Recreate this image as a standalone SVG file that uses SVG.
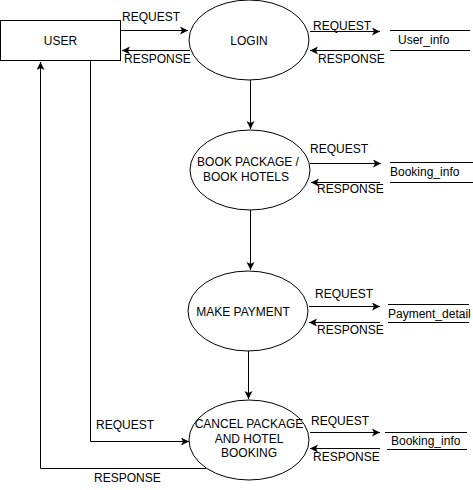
<svg xmlns="http://www.w3.org/2000/svg" width="473" height="490" viewBox="0 0 473 490">
<style>
.s{fill:#fff;stroke:#000;stroke-width:1}
.c{fill:none;stroke:#000;stroke-width:1}
.t{font-family:"Liberation Sans",Arial,sans-serif;font-size:12px;fill:#000}
.m{text-anchor:middle}
</style>
<defs>
<marker id="a" markerWidth="10" markerHeight="10" refX="8" refY="4" orient="auto" markerUnits="userSpaceOnUse">
<path d="M0,0 L8,4 L0,8 L2,4 z" fill="#000"/>
</marker>
</defs>
<rect width="473" height="490" fill="#fff"/>
<g id="connectors">
<path class="c" d="M120.5,30.5 H188" marker-end="url(#a)"/>
<path class="c" d="M190,50.5 H122" marker-end="url(#a)"/>
<path class="c" d="M310,31.5 H380" marker-end="url(#a)"/>
<path class="c" d="M380,50.5 H310" marker-end="url(#a)"/>
<path class="c" d="M250.5,80 V129" marker-end="url(#a)"/>
<path class="c" d="M310,163.5 H381" marker-end="url(#a)"/>
<path class="c" d="M380,182.5 H311" marker-end="url(#a)"/>
<path class="c" d="M250.5,210 V270" marker-end="url(#a)"/>
<path class="c" d="M309,306.5 H380" marker-end="url(#a)"/>
<path class="c" d="M380,322.5 H309" marker-end="url(#a)"/>
<path class="c" d="M248.5,351 V399" marker-end="url(#a)"/>
<path class="c" d="M90.5,60.5 V441.5 H189" marker-end="url(#a)"/>
<path class="c" d="M206,468.5 H40.5 V62" marker-end="url(#a)"/>
<path class="c" d="M310,432.5 H380" marker-end="url(#a)"/>
<path class="c" d="M380,448.5 H310" marker-end="url(#a)"/>
<text class="t" x="122" y="21">REQUEST</text>
<text class="t" x="124" y="63">RESPONSE</text>
<text class="t" x="313" y="30">REQUEST</text>
<text class="t" x="318" y="63">RESPONSE</text>
<text class="t" x="310" y="153">REQUEST</text>
<text class="t" x="317" y="193">RESPONSE</text>
<text class="t" x="315" y="298">REQUEST</text>
<text class="t" x="317" y="334">RESPONSE</text>
<text class="t" x="96" y="429">REQUEST</text>
<text class="t" x="94" y="482">RESPONSE</text>
<text class="t" x="311" y="425">REQUEST</text>
<text class="t" x="313" y="461">RESPONSE</text>
</g>
<g id="user">
<rect class="s" x="0.5" y="20.5" width="120" height="40"/>
<text class="t m" x="60.5" y="44.5">USER</text>
</g>
<g id="login">
<ellipse class="s" cx="249" cy="40" rx="60" ry="40"/>
<text class="t m" x="249" y="44.5">LOGIN</text>
</g>
<g id="book">
<ellipse class="s" cx="250" cy="170" rx="60" ry="40"/>
<text class="t m" x="248" y="166">BOOK PACKAGE /</text>
<text class="t m" x="246" y="181">BOOK HOTELS</text>
</g>
<g id="payment">
<ellipse class="s" cx="248" cy="311" rx="60" ry="40"/>
<text class="t m" x="243" y="315.5">MAKE PAYMENT</text>
</g>
<g id="cancel">
<ellipse class="s" cx="249" cy="440" rx="60" ry="40"/>
<text class="t m" x="249" y="428">CANCEL PACKAGE</text>
<text class="t m" x="249" y="443">AND HOTEL</text>
<text class="t m" x="249" y="457">BOOKING</text>
</g>
<g id="user_info">
<path class="c" d="M390,30.5 H470 M390,50.5 H470"/>
<text class="t" x="398" y="44">User_info</text>
</g>
<g id="booking_info1">
<path class="c" d="M390,162.5 H473 M390,182.5 H473"/>
<text class="t" x="390" y="176">Booking_info</text>
</g>
<g id="payment_detail">
<path class="c" d="M388,304.5 H469 M388,322.5 H469"/>
<text class="t" x="388" y="318">Payment_detail</text>
</g>
<g id="booking_info2">
<path class="c" d="M385,432.5 H467 M387,449.5 H467"/>
<text class="t" x="391" y="445">Booking_info</text>
</g>
</svg>
